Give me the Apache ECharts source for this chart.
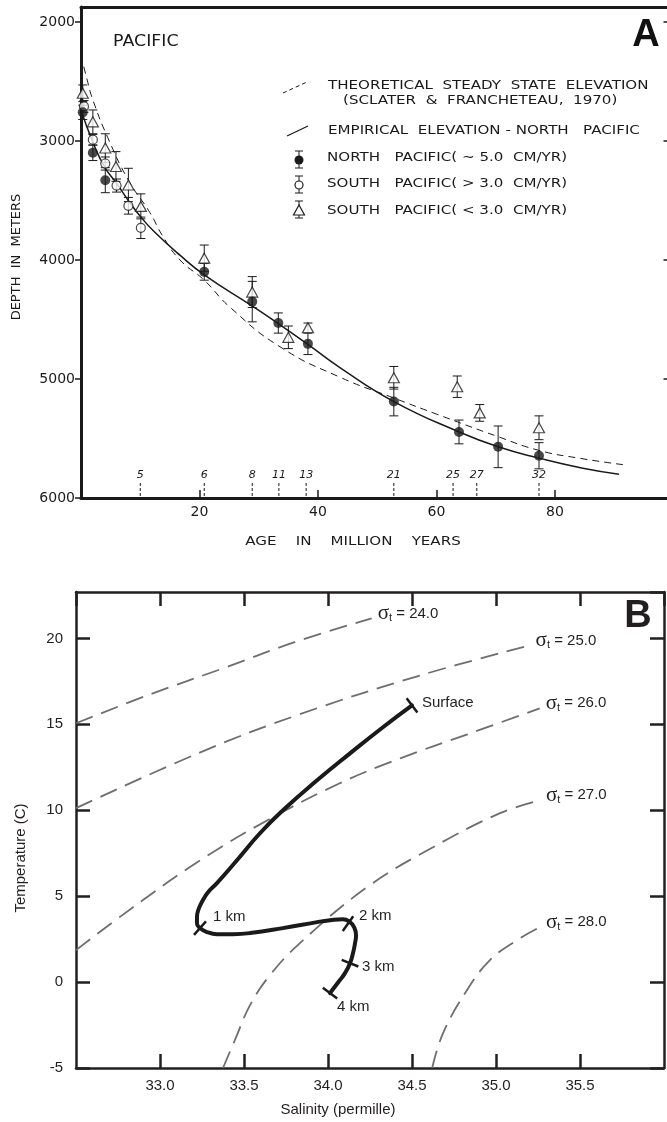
<!DOCTYPE html>
<html>
<head>
<meta charset="utf-8">
<script src="https://cdn.jsdelivr.net/npm/echarts@6/dist/echarts.min.js"></script>
<style>
html, body { margin: 0; padding: 0; background: #fff; }
#chart { width: 667px; height: 1122px; }
</style>
</head>
<body>
<div id="chart"></div>
<script>
// ---- panel A : depth vs age, Pacific ----
var northAge   = [0.3, 2.0, 4.1, 20.8, 28.9, 33.3, 38.3, 52.8, 63.8, 70.4, 77.3];
var northDepth = [2760, 3100, 3330, 4100, 4350, 4530, 4705, 5190, 5445, 5570, 5645];
var northErr   = [60, 65, 105, 70, 170, 85, 90, 120, 100, 175, 110];

var southFastAge   = [0.5, 2.0, 4.1, 6.0, 8.0, 10.1];
var southFastDepth = [2710, 2990, 3190, 3375, 3545, 3730];
var southFastErr   = [50, 45, 55, 55, 70, 90];

var southSlowAge   = [0.3, 2.0, 4.1, 5.9, 8.0, 10.1, 20.8, 28.9, 35.0, 38.3, 52.8, 63.5, 67.3, 77.3];
var southSlowDepth = [2600, 2840, 3060, 3215, 3370, 3550, 3985, 4270, 4650, 4570, 4990, 5065, 5285, 5410];
var southSlowErr   = [70, 100, 120, 125, 140, 105, 110, 130, 95, 40, 95, 90, 70, 100];

var theoAge   = [0, 1, 2, 4.5, 8, 11.6, 13.8, 16.7, 20.8, 25.1, 33.6, 43.7, 52.8, 60, 70.4, 77.3, 84, 91.5];
var theoDepth = [2280, 2480, 2655, 2970, 3330, 3600, 3800, 4000, 4170, 4395, 4730, 4985, 5160, 5295, 5485, 5600, 5665, 5720];

var empAge   = [0, 2, 4, 6.2, 7.9, 10.1, 12.5, 16.7, 20.8, 29, 33.3, 38.3, 43.7, 52.8, 63.8, 70.4, 77.3, 84.7, 90.8];
var empDepth = [2740, 3010, 3220, 3370, 3495, 3640, 3770, 3960, 4125, 4390, 4535, 4710, 4905, 5190, 5445, 5570, 5665, 5750, 5800];

var anomalyAge   = [10.0, 20.8, 28.9, 33.4, 38.0, 52.8, 62.8, 66.8, 77.3];
var anomalyLabel = ['5', '6', '8', '11', '13', '21', '25', '27', '32'];

var depthTicks = [2000, 3000, 4000, 5000, 6000];

// ---- panel B : T-S diagram ----
var sigmaLabels = ['24.0', '25.0', '26.0', '27.0', '28.0'];
var sigma24Sal  = [32.5, 32.94, 33.39, 33.83, 34.26];
var sigma24Temp = [15.06, 16.74, 18.31, 19.88, 21.16];
var sigma25Sal  = [32.5, 33.24, 33.83, 34.55, 35.20];
var sigma25Temp = [10.12, 13.37, 15.58, 17.85, 19.59];
var sigma26Sal  = [32.5, 32.84, 33.24, 33.64, 34.07, 34.43, 34.83, 35.26];
var sigma26Temp = [1.86, 4.36, 7.09, 9.42, 11.57, 13.02, 14.42, 15.93];
var sigma27Sal  = [33.375, 33.446, 33.536, 33.655, 33.833, 34.232, 34.625, 35.024, 35.262];
var sigma27Temp = [-5, -3.37, -1.34, 0.41, 2.27, 5.52, 7.85, 9.83, 10.58];
var sigma28Sal  = [34.62, 34.685, 34.827, 34.964, 35.125, 35.262];
var sigma28Temp = [-5, -2.97, -0.47, 1.28, 2.44, 3.2];

var tsSal  = [34.50, 34.327, 34.131, 33.935, 33.732, 33.595, 33.458, 33.339, 33.286, 33.256, 33.232,
              33.220, 33.220, 33.238, 33.280, 33.339, 33.435, 33.536, 33.732, 33.935, 34.012,
              34.089, 34.131, 34.155, 34.167, 34.161, 34.149, 34.131, 34.101, 34.071, 34.012];
var tsTemp = [16.10, 14.83, 13.31, 11.74, 10.0, 8.66, 7.09, 5.76, 5.23, 4.77, 4.30,
              3.78, 3.43, 3.14, 2.91, 2.79, 2.79, 2.85, 3.14, 3.49, 3.60,
              3.66, 3.49, 3.20, 2.73, 2.27, 1.69, 1.10, 0.52, 0.12, -0.64];

var markSal   = [34.50, 33.238, 34.119, 34.131, 34.012];
var markTemp  = [16.10, 3.14, 3.40, 1.10, -0.64];
var markLabel = ['Surface', '1 km', '2 km', '3 km', '4 km'];

// ---------------------------------------------------------------
var FA = "'DejaVu Sans', sans-serif";      // lettering of panel A
var FB = "'Liberation Sans', Arial, sans-serif";
var INK = '#1a1a1a';
var INKB = '#231f20';
var WIDE = 1.16;                           // panel A lettering is wide
var markOffsets = [[10, -3], [13, -11], [11, -8], [12, 4], [7, 14]];

function pairs(xs, ys) {
    return xs.map(function (x, i) { return [x, ys[i]]; });
}
function triples(xs, ys, es) {
    return xs.map(function (x, i) { return [x, ys[i], es[i]]; });
}

function errorBarItem(params, api) {
    var x = api.value(0), y = api.value(1), e = api.value(2);
    var top = api.coord([x, y - e]);
    var bot = api.coord([x, y + e]);
    var hw = 4.5;
    var st = { stroke: INK, lineWidth: 1 };
    return {
        type: 'group',
        children: [
            { type: 'line', shape: { x1: top[0], y1: top[1], x2: bot[0], y2: bot[1] }, style: st },
            { type: 'line', shape: { x1: top[0] - hw, y1: top[1], x2: top[0] + hw, y2: top[1] }, style: st },
            { type: 'line', shape: { x1: bot[0] - hw, y1: bot[1], x2: bot[0] + hw, y2: bot[1] }, style: st }
        ]
    };
}

// magnetic anomaly numbers along the age axis
function anomalyItem(params, api) {
    var p = api.coord([api.value(0), 6000]);
    return {
        type: 'group',
        children: [
            { type: 'line', shape: { x1: p[0], y1: p[1] - 2, x2: p[0], y2: p[1] - 15 },
              style: { stroke: INK, lineWidth: 1, lineDash: [3, 2] } },
            { type: 'text', x: p[0], y: p[1] - 23,
              style: { text: anomalyLabel[params.dataIndex], fontFamily: FA, fontSize: 11, fontStyle: 'italic',
                       fill: INK, align: 'center', verticalAlign: 'middle', textAlign: 'center', textVerticalAlign: 'middle' } }
        ]
    };
}

// depth ticks across the T-S curve, perpendicular to it
function depthMarkItem(params, api) {
    var p = api.coord([api.value(0), api.value(1)]);
    var best = 0, bd = Infinity, k;
    for (k = 0; k < tsSal.length; k++) {
        var c = api.coord([tsSal[k], tsTemp[k]]);
        var d = (c[0] - p[0]) * (c[0] - p[0]) + (c[1] - p[1]) * (c[1] - p[1]);
        if (d < bd) { bd = d; best = k; }
    }
    var i0 = Math.max(best - 1, 0), i1 = Math.min(best + 1, tsSal.length - 1);
    var a = api.coord([tsSal[i0], tsTemp[i0]]);
    var b = api.coord([tsSal[i1], tsTemp[i1]]);
    var dx = b[0] - a[0], dy = b[1] - a[1];
    var len = Math.sqrt(dx * dx + dy * dy) || 1;
    var nx = -dy / len * 9, ny = dx / len * 9;
    var off = markOffsets[params.dataIndex];
    return {
        type: 'group',
        children: [
            { type: 'line', shape: { x1: p[0] - nx, y1: p[1] - ny, x2: p[0] + nx, y2: p[1] + ny },
              style: { stroke: INK, lineWidth: 2.5 } },
            { type: 'text', x: p[0] + off[0], y: p[1] + off[1],
              style: { text: markLabel[params.dataIndex], fontFamily: FB, fontSize: 15, fill: INKB,
                       align: 'left', verticalAlign: 'middle', textAlign: 'left', textVerticalAlign: 'middle' } }
        ]
    };
}

function sigmaSeries(sal, temp, label) {
    return {
        type: 'line',
        xAxisIndex: 2,
        yAxisIndex: 2,
        data: pairs(sal, temp),
        smooth: 0.4,
        showSymbol: false,
        symbol: 'none',
        lineStyle: { color: '#6e6e6e', width: 1.8, type: [18, 9] },
        endLabel: {
            show: true,
            distance: 6,
            offset: [0, -5],
            formatter: function () { return '{g|σ}{t|t}{n| = ' + label + '}'; },
            rich: {
                g: { fontFamily: "'Liberation Serif', serif", fontSize: 21, color: INKB },
                t: { fontFamily: FB, fontSize: 11, color: INKB, padding: [10, 0, 0, 0] },
                n: { fontFamily: FB, fontSize: 15, color: INKB }
            }
        },
        z: 2
    };
}

function txt(x, y, text, extra, scaleX) {
    var st = { text: text, fontFamily: FA, fontSize: 13, fill: INK, align: 'left', verticalAlign: 'middle',
               textAlign: 'left', textVerticalAlign: 'middle' };
    for (var k in extra) st[k] = extra[k];
    return { type: 'text', x: x, y: y, scaleX: scaleX || 1, style: st, z: 10 };
}
function seg(x1, y1, x2, y2, extra) {
    var st = { stroke: INK, lineWidth: 1 };
    for (var k in extra) st[k] = extra[k];
    return { type: 'line', shape: { x1: x1, y1: y1, x2: x2, y2: y2 }, style: st, z: 10 };
}
function legendBar(x, y) {
    return [seg(x, y - 9, x, y + 8), seg(x - 4, y - 9, x + 4, y - 9), seg(x - 4, y + 8, x + 4, y + 8)];
}

var chart = echarts.init(document.getElementById('chart'), null, { renderer: 'canvas' });

var axisA = { lineStyle: { color: INK, width: 3 }, onZero: false };
var axisB = { lineStyle: { color: INKB, width: 2.5 }, onZero: false };
var centered = { align: 'center', textAlign: 'center' };

var option = {
    backgroundColor: '#fff',
    animation: false,
    grid: [
        { left: 81, top: 7, width: 592.5, height: 491, outerBoundsMode: 'none' },
        { left: 76, top: 592, width: 588, height: 476, outerBoundsMode: 'none' }
    ],
    xAxis: [
        {
            gridIndex: 0, type: 'value', position: 'bottom', min: 0, max: 100, interval: 20,
            axisLine: axisA,
            axisTick: { inside: true, length: 8, lineStyle: { color: INK, width: 1.5 } },
            axisLabel: { showMinLabel: false, showMaxLabel: false, margin: 7, fontFamily: FA, fontSize: 14, color: INK },
            splitLine: { show: false }
        },
        {
            gridIndex: 0, type: 'value', position: 'top', min: 0, max: 100,
            axisLine: axisA, axisTick: { show: false }, axisLabel: { show: false }, splitLine: { show: false }
        },
        {
            gridIndex: 1, type: 'value', position: 'bottom', min: 32.5, max: 36.0, interval: 0.5,
            axisLine: axisB,
            axisTick: { inside: true, length: 14, lineStyle: { color: INKB, width: 2.5 } },
            axisLabel: {
                showMinLabel: false, showMaxLabel: false, margin: 10, fontFamily: FB, fontSize: 15, color: INKB,
                formatter: function (v) { return v.toFixed(1); }
            },
            splitLine: { show: false }
        },
        {
            gridIndex: 1, type: 'value', position: 'top', min: 32.5, max: 36.0, interval: 0.5,
            axisLine: axisB,
            axisTick: { inside: true, length: 14, lineStyle: { color: INKB, width: 2.5 } },
            axisLabel: { show: false }, splitLine: { show: false }
        }
    ],
    yAxis: [
        {
            gridIndex: 0, type: 'value', position: 'left', inverse: true, min: 1875, max: 6000,
            axisLine: axisA,
            axisTick: { inside: false, length: 6, customValues: depthTicks, lineStyle: { color: INK, width: 1.5 } },
            axisLabel: {
                customValues: depthTicks, margin: 6, fontFamily: FA, fontSize: 14, color: INK,
                formatter: function (v) { return String(v); }
            },
            splitLine: { show: false }
        },
        {
            gridIndex: 0, type: 'value', position: 'right', inverse: true, min: 1875, max: 6000,
            axisLine: axisA,
            axisTick: { inside: true, length: 10, customValues: depthTicks.slice(0, 4), lineStyle: { color: INK, width: 1.5 } },
            axisLabel: { show: false }, splitLine: { show: false }
        },
        {
            gridIndex: 1, type: 'value', position: 'left', min: -5, max: 22.7, interval: 5,
            axisLine: axisB,
            axisTick: { inside: true, length: 14, lineStyle: { color: INKB, width: 2.5 } },
            axisLabel: { showMaxLabel: false, margin: 13, fontFamily: FB, fontSize: 15, color: INKB },
            splitLine: { show: false }
        },
        {
            gridIndex: 1, type: 'value', position: 'right', min: -5, max: 22.7, interval: 5,
            axisLine: axisB,
            axisTick: { inside: true, length: 14, lineStyle: { color: INKB, width: 2.5 } },
            axisLabel: { show: false }, splitLine: { show: false }
        }
    ],
    series: [
        // panel A curves
        {
            type: 'line', xAxisIndex: 0, yAxisIndex: 0, data: pairs(theoAge, theoDepth),
            smooth: 0.5, showSymbol: false, symbol: 'none',
            lineStyle: { color: INK, width: 1, type: [7, 5] }, z: 2
        },
        {
            type: 'line', xAxisIndex: 0, yAxisIndex: 0, data: pairs(empAge, empDepth),
            smooth: 0.5, showSymbol: false, symbol: 'none',
            lineStyle: { color: INK, width: 1.5 }, z: 2
        },
        // error bars
        {
            type: 'custom', xAxisIndex: 0, yAxisIndex: 0, renderItem: errorBarItem,
            data: triples(northAge, northDepth, northErr)
                .concat(triples(southFastAge, southFastDepth, southFastErr))
                .concat(triples(southSlowAge, southSlowDepth, southSlowErr)),
            encode: { x: 0, y: 1 }, z: 3
        },
        // markers
        {
            type: 'scatter', xAxisIndex: 0, yAxisIndex: 0, data: pairs(southSlowAge, southSlowDepth),
            symbol: 'triangle', symbolSize: [11, 10],
            itemStyle: { color: '#fff', borderColor: INK, borderWidth: 1.2 }, z: 4
        },
        {
            type: 'scatter', xAxisIndex: 0, yAxisIndex: 0, data: pairs(southFastAge, southFastDepth),
            symbol: 'circle', symbolSize: 9,
            itemStyle: { color: '#fff', borderColor: INK, borderWidth: 1.2 }, z: 4
        },
        {
            type: 'scatter', xAxisIndex: 0, yAxisIndex: 0, data: pairs(northAge, northDepth),
            symbol: 'circle', symbolSize: 10,
            itemStyle: { color: INK }, z: 5
        },
        {
            type: 'custom', xAxisIndex: 0, yAxisIndex: 0, renderItem: anomalyItem,
            data: anomalyAge.map(function (a) { return [a, 6000]; }), encode: { x: 0, y: 1 }, z: 3
        },
        // panel B
        sigmaSeries(sigma24Sal, sigma24Temp, sigmaLabels[0]),
        sigmaSeries(sigma25Sal, sigma25Temp, sigmaLabels[1]),
        sigmaSeries(sigma26Sal, sigma26Temp, sigmaLabels[2]),
        sigmaSeries(sigma27Sal, sigma27Temp, sigmaLabels[3]),
        sigmaSeries(sigma28Sal, sigma28Temp, sigmaLabels[4]),
        {
            type: 'line', xAxisIndex: 2, yAxisIndex: 2, data: pairs(tsSal, tsTemp),
            smooth: 0.5, showSymbol: false, symbol: 'none',
            lineStyle: { color: INK, width: 4, cap: 'round', join: 'round' }, z: 4
        },
        {
            type: 'custom', xAxisIndex: 2, yAxisIndex: 2, renderItem: depthMarkItem,
            data: pairs(markSal, markTemp), encode: { x: 0, y: 1 }, z: 5
        }
    ],
    graphic: [
        txt(113, 42, 'PACIFIC', { fontSize: 15 }, WIDE),
        txt(646, 36, 'A', { fontFamily: FB, fontSize: 38, fontWeight: 'bold', align: 'center', textAlign: 'center', fill: '#111' }),
        // legend of panel A
        seg(283, 93, 307, 82, { lineDash: [4, 3] }),
        txt(328, 86, 'THEORETICAL  STEADY  STATE  ELEVATION', null, WIDE),
        txt(343, 101, '(SCLATER  &  FRANCHETEAU,  1970)', null, WIDE),
        seg(287, 136, 308, 126, { lineWidth: 1.3 }),
        txt(328, 131, 'EMPIRICAL  ELEVATION - NORTH   PACIFIC', null, WIDE),
        { type: 'circle', shape: { cx: 299, cy: 160, r: 4.5 }, style: { fill: INK }, z: 11 },
        txt(327, 158, 'NORTH   PACIFIC( ∼ 5.0  CM/YR)', null, WIDE),
        { type: 'circle', shape: { cx: 299, cy: 185, r: 4 }, style: { fill: '#fff', stroke: INK, lineWidth: 1.2 }, z: 11 },
        txt(327, 184, 'SOUTH   PACIFIC( > 3.0  CM/YR)', null, WIDE),
        { type: 'polygon', shape: { points: [[299, 205], [304.5, 215], [293.5, 215]] }, style: { fill: '#fff', stroke: INK, lineWidth: 1.2 }, z: 11 },
        txt(327, 211, 'SOUTH   PACIFIC( < 3.0  CM/YR)', null, WIDE),
        txt(353, 542, 'AGE    IN    MILLION    YEARS', centered, WIDE),
        // panel B texts
        txt(638, 617, 'B', { fontFamily: FB, fontSize: 38, fontWeight: 'bold', align: 'center', textAlign: 'center', fill: INKB }),
        txt(338, 1110, 'Salinity (permille)', { fontFamily: FB, fontSize: 15, fill: INKB, align: 'center', textAlign: 'center' })
    ].concat(legendBar(299, 160), legendBar(299, 185), legendBar(299, 210))
};

// the two vertical titles
var depthTitle = txt(17, 257, 'DEPTH  IN  METERS', centered);
depthTitle.rotation = Math.PI / 2;
var tempTitle = txt(21, 858, 'Temperature (C)', { fontFamily: FB, fontSize: 15, fill: INKB, align: 'center', textAlign: 'center' });
tempTitle.rotation = Math.PI / 2;
option.graphic.push(depthTitle, tempTitle);

chart.setOption(option);
</script>
</body>
</html>
